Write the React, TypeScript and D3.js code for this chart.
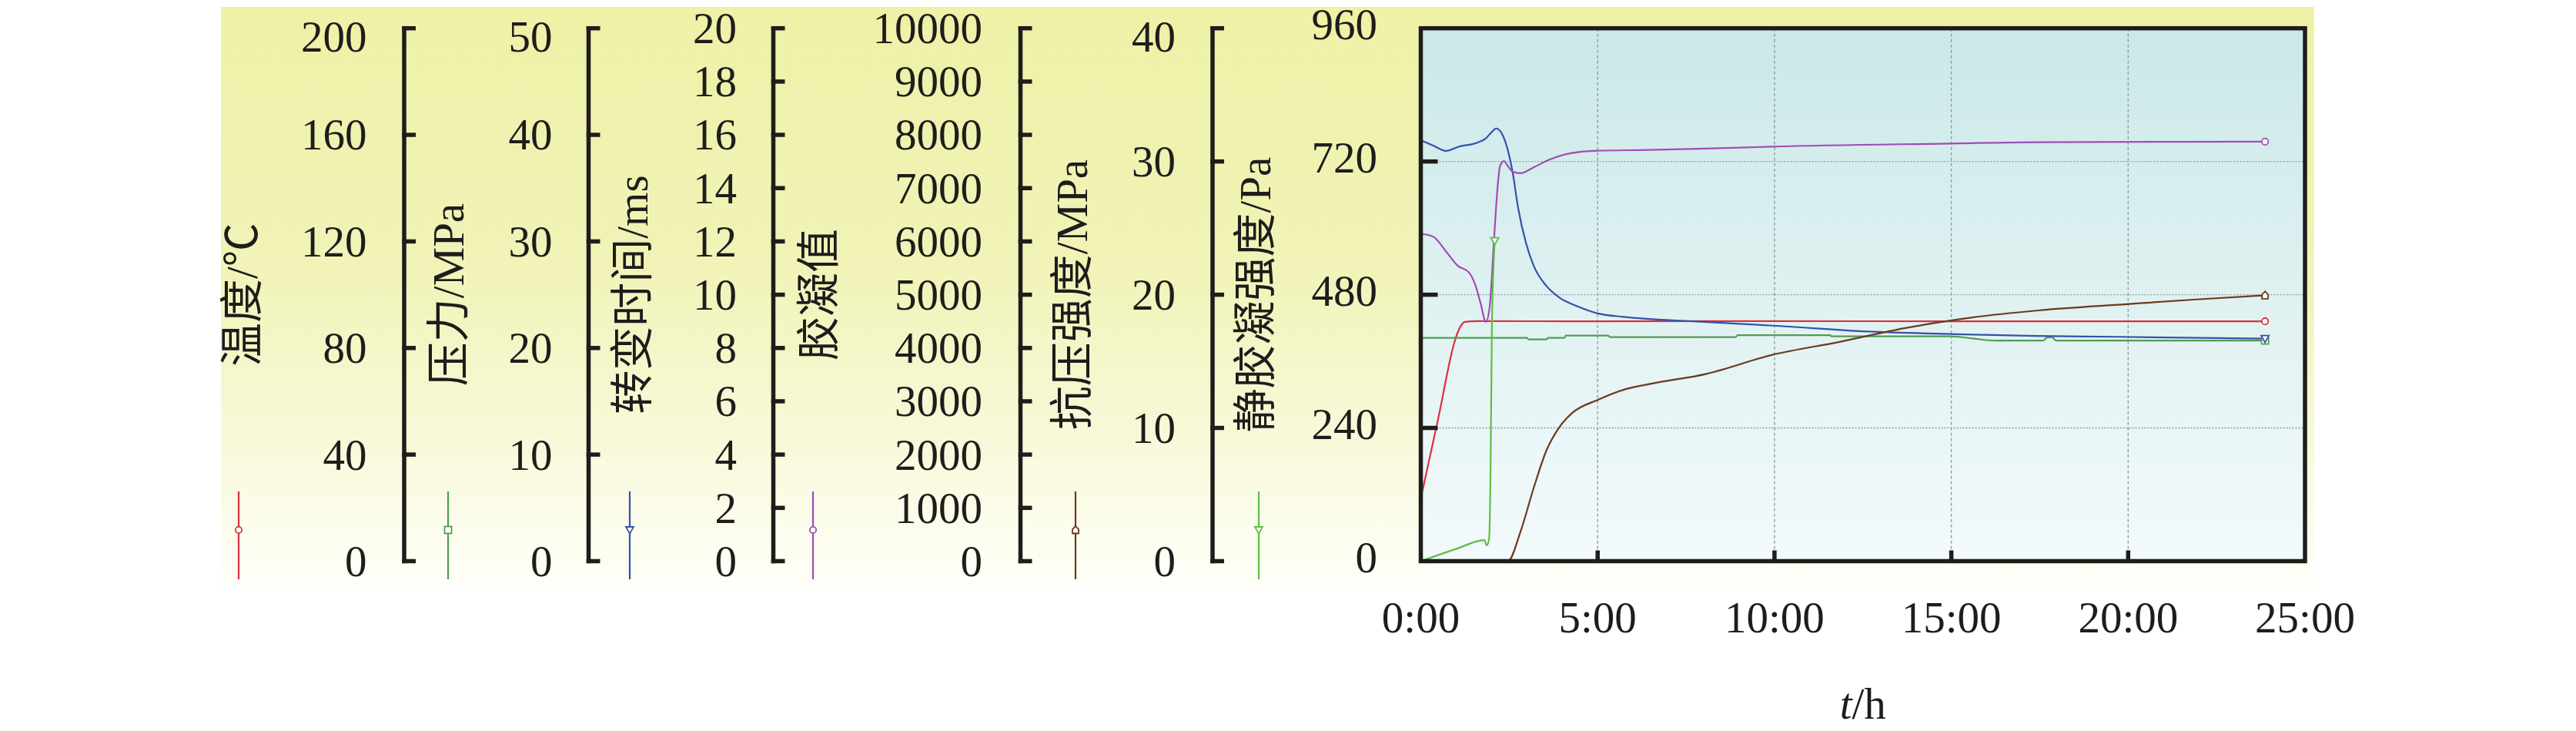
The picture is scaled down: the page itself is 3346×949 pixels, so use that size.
import * as d3 from "d3";

type Pt = [number, number];

// hours vs value
const temperature: Pt[] = [
  [0, 23.5], [0.5, 54], [0.97, 83], [1.1, 87.5], [1.25, 89.8], [1.6, 90.1],
  [5, 90], [10, 90.1], [15, 90], [20, 90], [23.87, 90],
];
const pressure: Pt[] = [
  [0, 20.95], [3.0, 20.95], [3.05, 20.8], [3.55, 20.8], [3.6, 20.95], [4.06, 20.95],
  [4.1, 21.17], [5.29, 21.17], [5.35, 21.03], [8.9, 21.03], [8.96, 21.2], [11.58, 21.2],
  [11.6, 21.1], [14.96, 21.1], [15.6, 20.9], [16.2, 20.7], [17.6, 20.7], [17.71, 21.0],
  [17.85, 21.0], [17.96, 20.7], [23.87, 20.7],
];
const transitionTime: Pt[] = [
  [0, 15.8], [0.35, 15.6], [0.71, 15.4], [1.08, 15.56], [1.58, 15.7], [1.84, 15.87],
  [2.0, 16.1], [2.13, 16.24], [2.31, 16.0], [2.46, 15.43], [2.6, 14.57], [2.75, 13.27],
  [2.97, 11.96], [3.19, 11.09], [3.55, 10.33], [3.91, 9.9], [4.42, 9.57], [5.0, 9.3],
  [5.73, 9.17], [6.46, 9.09], [7.7, 9.0], [9.96, 8.84], [12.8, 8.61], [15.1, 8.52],
  [17.4, 8.45], [19.7, 8.42], [23.87, 8.35],
];
const gelValue: Pt[] = [
  [0, 6143], [0.35, 6090], [0.71, 5815], [1.04, 5546], [1.37, 5412], [1.55, 5167],
  [1.69, 4841], [1.84, 4490], [1.95, 4790], [2.06, 5930], [2.17, 7010], [2.24, 7416],
  [2.35, 7509], [2.46, 7416], [2.6, 7308], [2.82, 7281], [3.19, 7390], [3.62, 7530],
  [4.27, 7660], [5.0, 7703], [6.46, 7717], [8.08, 7742], [9.96, 7780], [14.96, 7837],
  [17.46, 7862], [23.87, 7872],
];
const compressive: Pt[] = [
  [0, 0], [2.46, 0], [2.82, 2.22], [3.19, 5.48], [3.55, 8.3], [3.91, 10.03], [4.28, 11.12],
  [5.0, 12.1], [5.73, 12.86], [6.46, 13.29], [8.08, 14.06], [9.96, 15.5], [11.84, 16.46],
  [13.7, 17.5], [15.59, 18.29], [17.46, 18.82], [19.96, 19.29], [21.84, 19.63], [23.87, 19.96],
];
const staticGel: Pt[] = [
  [0, 0], [1.0, 22], [1.8, 38], [1.86, 28.5], [1.93, 40], [1.97, 150], [2.01, 420],
  [2.05, 520], [2.09, 577],
];

const series = [temperature, pressure, transitionTime, gelValue, compressive, staticGel];
const titles = ["温度/℃", "压力/MPa", "转变时间/ms", "胶凝值", "抗压强度/MPa", "静胶凝强度/Pa"];
const domains: Pt[] = [[0, 200], [0, 50], [0, 20], [0, 10000], [0, 40], [0, 960]];
const tickSteps = [40, 10, 2, 1000, 10, 240];
const colors = ["#d9313f", "#4f9d55", "#3452a8", "#a24bb6", "#6b3a1f", "#5cbf44"];
const markers = ["circle", "square", "triDown", "circle", "house", "triDown"];

const xTicks = [0, 5, 10, 15, 20, 25];
const xTickLabels = ["0:00", "5:00", "10:00", "15:00", "20:00", "25:00"];

const W = 3346;
const H = 949;
const FONT = '"Liberation Serif", "Times New Roman", "Noto Sans CJK SC", serif';
const FS = 57;

const panel = { left: 287, right: 3006, top: 9, bottom: 766 };
const plot = { left: 1845.5, right: 2994, top: 36.7, bottom: 728.5 };

// one vertical axis per series, laid out left to right
const axisX = [525, 764.5, 1004.5, 1325.5, 1575, plot.left];
const labelX = [476.5, 717.5, 957, 1276, 1527, 1789];
const titleX = [313, 581, 820, 1062, 1391, 1629];
const legendX = [310, 582, 818, 1056, 1397, 1635];
const topShift = [11, 11, 0, 0, 11, 0];
const labelDy = [0, 0, 0, 0, 0, -5];

const Marker = ({ kind, x, y, color }: { kind: string; x: number; y: number; color: string }) => {
  const p = { fill: "#fff", stroke: color, strokeWidth: 1.8 };
  if (kind === "circle") return <circle cx={x} cy={y} r={4.2} {...p} />;
  if (kind === "square") return <rect x={x - 4.5} y={y - 4.5} width={9} height={9} {...p} />;
  if (kind === "triDown")
    return <path d={`M${x - 5},${y - 4}L${x + 5},${y - 4}L${x},${y + 5}Z`} {...p} />;
  return <path d={`M${x - 4},${y + 4.5}L${x + 4},${y + 4.5}L${x + 4},${y - 1}L${x},${y - 5}L${x - 4},${y - 1}Z`} {...p} />;
};

export default function App() {
  const x = d3.scaleLinear().domain([0, 25]).range([plot.left, plot.right]);
  const ys = domains.map((d) => d3.scaleLinear().domain(d).range([plot.bottom, plot.top]));
  const ticksOf = (i: number) => d3.range(domains[i][0], domains[i][1] + tickSteps[i] / 2, tickSteps[i]);
  const yGel = ys[5];

  const path = (s: Pt[], i: number) =>
    d3.line<Pt>()
      .x((d) => x(d[0]))
      .y((d) => ys[i](d[1]))
      .curve(d3.curveMonotoneX)(s) || "";

  return (
    <svg
      width={W}
      height={H}
      style={{ position: "absolute", left: 0, top: 0, display: "block" }}
      fontFamily={FONT}
    >
      <defs>
        <linearGradient id="panelBg" x1="0" y1="0" x2="0" y2="1">
          <stop offset="0" stopColor="#eef1a6" />
          <stop offset="0.45" stopColor="#f1f3b8" />
          <stop offset="0.75" stopColor="#f8f9da" />
          <stop offset="1" stopColor="#fffffa" />
        </linearGradient>
        <linearGradient id="plotBg" x1="0" y1="0" x2="0" y2="1">
          <stop offset="0" stopColor="#cbe8e8" />
          <stop offset="1" stopColor="#f3fafb" />
        </linearGradient>
        <clipPath id="plotClip">
          <rect x={plot.left} y={plot.top - 10} width={plot.right - plot.left} height={plot.bottom - plot.top + 10} />
        </clipPath>
      </defs>

      <rect x={panel.left} y={panel.top} width={panel.right - panel.left} height={panel.bottom - panel.top} fill="url(#panelBg)" />
      <rect x={plot.left} y={plot.top} width={plot.right - plot.left} height={plot.bottom - plot.top} fill="url(#plotBg)" />

      {/* grid */}
      <g stroke="#8f9e9e" strokeWidth={1.4}>
        {xTicks.slice(1, -1).map((t) => (
          <line key={`vg-${t}`} x1={x(t)} x2={x(t)} y1={plot.top} y2={plot.bottom} strokeDasharray="4,3" />
        ))}
        {ticksOf(5).slice(1, -1).map((t) => (
          <line key={`hg-${t}`} x1={plot.left} x2={plot.right} y1={yGel(t)} y2={yGel(t)} strokeDasharray="2,2" />
        ))}
      </g>

      {/* curves */}
      <g clipPath="url(#plotClip)" fill="none">
        {series.map((s, i) => (
          <path key={`c-${i}`} d={path(s, i)} stroke={colors[i]} strokeWidth={2.2} strokeLinejoin="round" />
        ))}
      </g>
      {series.map((s, i) => {
        const last = s[s.length - 1];
        return <Marker key={`m-${i}`} kind={markers[i]} x={x(last[0])} y={ys[i](last[1])} color={colors[i]} />;
      })}

      {/* plot frame and ticks */}
      <g stroke="#1f1c1c" strokeWidth={5.5}>
        <rect x={plot.left} y={plot.top} width={plot.right - plot.left} height={plot.bottom - plot.top} fill="none" />
        {xTicks.slice(1, -1).map((t) => (
          <line key={`xt-${t}`} x1={x(t)} x2={x(t)} y1={plot.bottom} y2={plot.bottom - 14} />
        ))}
        {ticksOf(5).slice(1, -1).map((t) => (
          <line key={`yt-${t}`} x1={plot.left} x2={plot.left + 22} y1={yGel(t)} y2={yGel(t)} />
        ))}
      </g>

      {/* separate axes */}
      <g stroke="#1f1c1c" strokeWidth={5.5} fill="none">
        {axisX.slice(0, 5).map((ax, i) => (
          <g key={`ax-${i}`}>
            <line x1={ax} x2={ax} y1={plot.top - 2.75} y2={plot.bottom + 2.75} />
            {ticksOf(i).map((t) => (
              <line key={`t-${t}`} x1={ax - 2.75} x2={ax + 15} y1={ys[i](t)} y2={ys[i](t)} />
            ))}
          </g>
        ))}
      </g>

      {/* tick labels */}
      <g fontSize={FS} fill="#1f1c1c" textAnchor="end">
        {axisX.map((_, i) =>
          ticksOf(i).map((t) => (
            <text
              key={`l-${i}-${t}`}
              x={labelX[i]}
              y={ys[i](t) + (t === domains[i][1] ? topShift[i] : 0) + labelDy[i]}
              dy="0.34em"
            >
              {t}
            </text>
          ))
        )}
      </g>

      {/* axis titles */}
      <g fontSize={FS} fill="#1f1c1c" textAnchor="middle">
        {titles.map((t, i) => (
          <text key={`ti-${i}`} transform={`translate(${titleX[i]},${(plot.top + plot.bottom) / 2}) rotate(-90)`} dy="0.36em">
            {t}
          </text>
        ))}
      </g>

      {/* legend keys */}
      {legendX.map((lx, i) => (
        <g key={`lg-${i}`}>
          <line x1={lx} x2={lx} y1={638} y2={752} stroke={colors[i]} strokeWidth={2.2} />
          <Marker kind={markers[i]} x={lx} y={688} color={colors[i]} />
        </g>
      ))}

      {/* x axis labels */}
      <g fontSize={FS} fill="#1f1c1c" textAnchor="middle">
        {xTicks.map((t, i) => (
          <text key={`xl-${t}`} x={x(t)} y={802} dy="0.34em">
            {xTickLabels[i]}
          </text>
        ))}
        <text x={x(12.5)} y={914} dy="0.34em">
          <tspan fontStyle="italic">t</tspan>/h
        </text>
      </g>
    </svg>
  );
}
